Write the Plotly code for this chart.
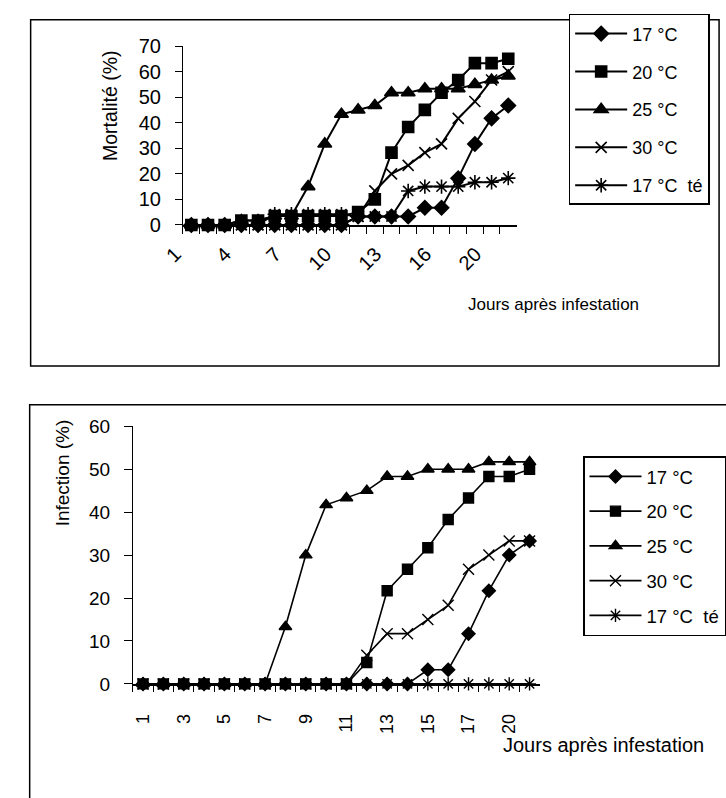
import plotly.graph_objects as go

# ---------------- data ----------------
days = [str(d) for d in range(1, 19)] + ["20", "21"]

series_names = ["17 °C", "20 °C", "25 °C", "30 °C", "17 °C  té"]

mort_17 = [0, 0, 0, 0, 0, 0, 0, 0, 0, 0, 3.3, 3.3, 3.3, 3.3, 6.7, 6.7, 18.3, 31.7, 41.7, 46.7]
mort_20 = [0, 0, 0, 1.7, 1.7, 3.5, 3.5, 3.5, 3.5, 3.5, 5, 10, 28.3, 38.3, 45, 51.7, 56.7, 63.3, 63.3, 65]
mort_25 = [0, 0, 0, 1.7, 1.7, 3.5, 3.5, 15, 31.7, 43.3, 45, 46.7, 51.7, 51.7, 53.3, 53.3, 53.3, 55, 56.7, 58.3]
mort_30 = [0, 0, 0, 0, 0, 0, 0, 0, 0, 0, 3.3, 13.3, 20, 23.3, 28.3, 31.7, 41.7, 48.3, 56.7, 60]
mort_te = [0, 0, 0, 0, 0, 4.2, 4.2, 4.2, 4.2, 4.2, 3.3, 3.3, 3.3, 13.3, 15, 15, 15, 16.7, 16.7, 18.3]

inf_17 = [0] * 14 + [3.3, 3.3, 11.7, 21.7, 30, 33.3]
inf_20 = [0] * 11 + [5, 21.7, 26.7, 31.7, 38.3, 43.3, 48.3, 48.3, 50]
inf_25 = [0] * 7 + [13.3, 30, 41.7, 43.3, 45, 48.3, 48.3, 50, 50, 50, 51.7, 51.7, 51.7]
inf_30 = [0] * 11 + [6.7, 11.7, 11.7, 15, 18.3, 26.7, 30, 33.3, 33.3]
inf_te = [0] * 20

top_labels = [d if i % 3 == 0 else "" for i, d in enumerate(days)]
bot_labels = [d if i % 2 == 0 else "" for i, d in enumerate(days)]

# ---------------- styling ----------------
W, H = 726, 798
FONT = "Liberation Sans, Arial, sans-serif"


def px(x):
    return x / W


def py(y):
    return 1 - y / H


symbols = ["diamond", "square", "triangle-up", "x-thin", "asterisk"]
sizes_top = [11, 11, 12, 11, 12]
sizes_bot = [10, 10, 11, 11, 11]

fig = go.Figure()

top_series = [mort_17, mort_20, mort_25, mort_30, mort_te]
bot_series = [inf_17, inf_20, inf_25, inf_30, inf_te]

for k, (name, vals) in enumerate(zip(series_names, top_series)):
    fig.add_trace(go.Scatter(
        x=days, y=vals, name=name, mode="lines+markers",
        xaxis="x", yaxis="y", legend="legend", legendgroup="t%d" % k,
        line=dict(color="black", width=2),
        marker=dict(symbol=symbols[k], size=sizes_top[k], color="black",
                    line=dict(color="black", width=1.6)),
        cliponaxis=False,
    ))

for k, (name, vals) in enumerate(zip(series_names, bot_series)):
    fig.add_trace(go.Scatter(
        x=days, y=vals, name=name, mode="lines+markers",
        xaxis="x2", yaxis="y2", legend="legend2", legendgroup="b%d" % k,
        line=dict(color="black", width=1.6),
        marker=dict(symbol=symbols[k], size=sizes_bot[k], color="black",
                    line=dict(color="black", width=1.4)),
        cliponaxis=False,
    ))

axis_common = dict(showgrid=False, zeroline=False, showline=True,
                   linecolor="black", ticks="outside", tickcolor="black")
n = len(days)

fig.update_layout(
    width=W, height=H, autosize=False,
    margin=dict(l=0, r=0, t=0, b=0),
    paper_bgcolor="white", plot_bgcolor="white",
    font=dict(family=FONT, color="black", size=17),
    xaxis=dict(axis_common, type="category", domain=[px(168), px(514)], anchor="y",
               range=[-0.5, n - 0.5],
               tickvals=days, ticktext=top_labels, tickson="boundaries",
               ticklen=7, linewidth=1.5, tickangle=-45,
               tickfont=dict(size=20), ticklabelshift=-16, ticklabelstandoff=8),
    yaxis=dict(axis_common, domain=[py(220), py(36)], anchor="x",
               range=[0, 70], dtick=10, ticklen=7, linewidth=1,
               tickfont=dict(size=20), ticklabelstandoff=10),
    xaxis2=dict(axis_common, type="category", domain=[px(116), px(538)], anchor="y2",
                range=[-0.5, n - 0.5],
                tickvals=days, ticktext=bot_labels, tickson="boundaries",
                ticklen=6, linewidth=1.5, tickangle=-90,
                tickfont=dict(size=18), ticklabelstandoff=21),
    yaxis2=dict(axis_common, domain=[py(692), py(427)], anchor="x2",
                range=[0, 60], dtick=10, ticklen=8, linewidth=1,
                tickfont=dict(size=19), ticklabelstandoff=10),
    legend=dict(x=px(568), y=py(3), xanchor="left", yanchor="top",
                bordercolor="black", borderwidth=1.5, bgcolor="white",
                font=dict(size=18), tracegroupgap=11.5, itemwidth=52),
    legend2=dict(x=px(583), y=py(458), xanchor="left", yanchor="top",
                 bordercolor="black", borderwidth=1.5, bgcolor="white",
                 font=dict(size=18.5), tracegroupgap=7.7, itemwidth=52),
    shapes=[
        dict(type="rect", xref="paper", yref="paper",
             x0=px(10), x1=px(724), y0=py(365), y1=py(9),
             line=dict(color="black", width=1.5), layer="below"),
        dict(type="rect", xref="paper", yref="paper",
             x0=px(9), x1=px(760), y0=py(840), y1=py(405),
             line=dict(color="black", width=1.5), layer="below"),
    ],
    annotations=[
        dict(text="Mortalité (%)", xref="paper", yref="paper",
             x=px(93), y=py(97), textangle=-90, showarrow=False,
             font=dict(size=19.5), xanchor="center", yanchor="middle"),
        dict(text="Jours après infestation", xref="paper", yref="paper",
             x=px(462), y=py(302), showarrow=False, font=dict(size=17),
             xanchor="left", yanchor="middle"),
        dict(text="Infection (%)", xref="paper", yref="paper",
             x=px(43), y=py(475), textangle=-90, showarrow=False,
             font=dict(size=19), xanchor="center", yanchor="middle"),
        dict(text="Jours après infestation", xref="paper", yref="paper",
             x=px(498), y=py(755), showarrow=False, font=dict(size=20),
             xanchor="left", yanchor="middle"),
    ],
)

fig.write_html("out.html")
